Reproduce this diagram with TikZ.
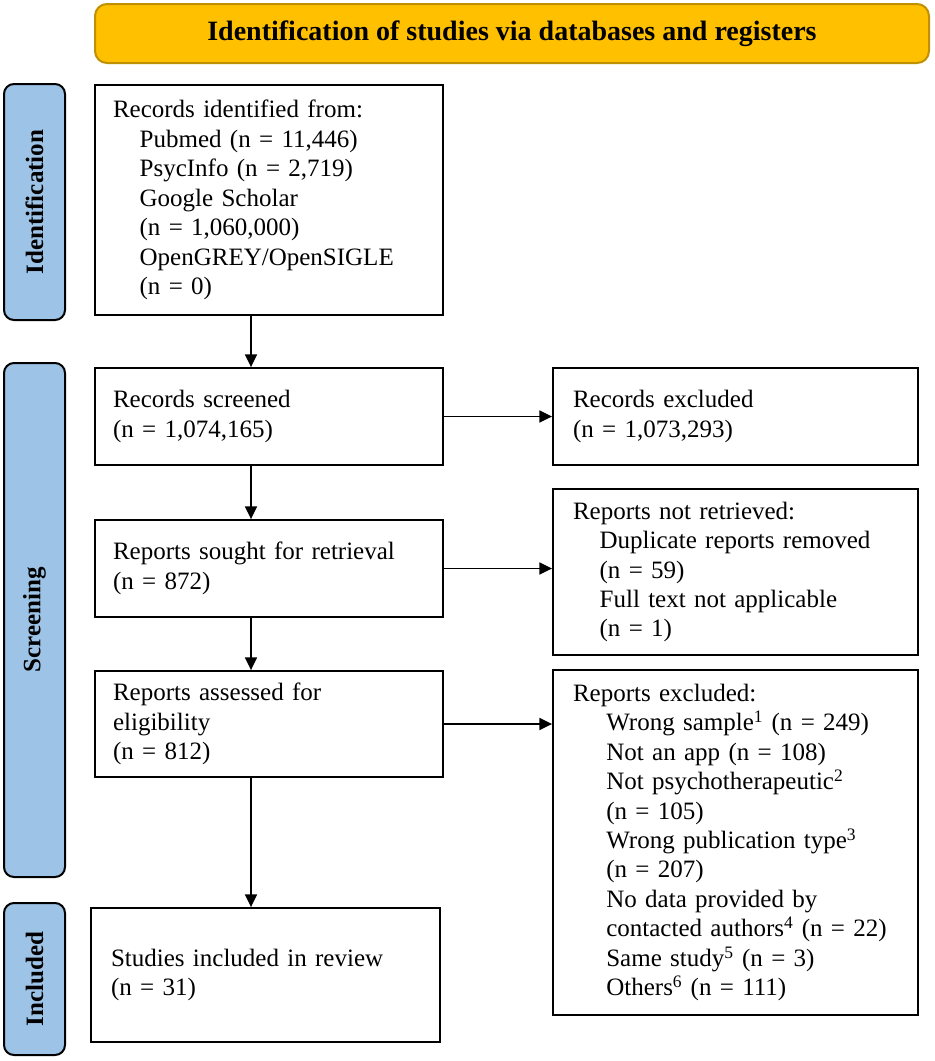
\documentclass[tikz,border=0pt]{standalone}
\usepackage{fontspec}
\setmainfont{Liberation Serif}
\usetikzlibrary{arrows.meta}
\definecolor{bannerfill}{HTML}{FFC000}
\definecolor{bannerdraw}{HTML}{BF9000}
\definecolor{sidefill}{HTML}{9DC3E6}
\begin{document}
\begin{tikzpicture}[x=0.75pt,y=-0.75pt,
  every node/.style={font=\fontsize{18.75}{22.1}\selectfont},
  box/.style={draw=black, line width=1.4pt, rectangle, align=left, inner ysep=0pt},
  lbox/.style={box, inner xsep=13.5pt, text width=234pt},
  rbox/.style={box, inner xsep=15pt, text width=243.75pt, minimum width=273.75pt},
  side/.style={draw=black, line width=1.5pt, fill=sidefill, rounded corners=7.5pt,
    minimum width=45.75pt, inner sep=0pt},
  sidetext/.style={rotate=90, font=\fontsize{18.75}{22}\selectfont\bfseries},
  arr/.style={line width=1.1pt, -{Triangle[length=9.5pt,width=9pt]}}]
\useasboundingbox (0,0) rectangle (935,1061);
\fill[white] (0,0) rectangle (935,1061);

% banner
\node[draw=bannerdraw, line width=1.5pt, fill=bannerfill, rounded corners=9pt,
  minimum width=625.5pt, minimum height=44.25pt, inner sep=0pt,
  font=\fontsize{21}{24}\selectfont\bfseries] (banner) at (512,33.5)
  {Identification of studies via databases and registers};

% side labels
\node[side, minimum height=177pt] (sid) at (34.5,202) {};
\node[sidetext] (sidt) at (sid.center) {Identification};
\node[side, minimum height=385.5pt] (sscr) at (34.5,620) {};
\node[sidetext] (sscrt) at (sscr.center) {Screening};
\node[side, minimum height=114pt] (sinc) at (34.5,979) {};
\node[sidetext] (sinct) at (sinc.center) {Included};

% left column
\node[lbox, minimum width=261pt, minimum height=172.5pt] (b1) at (269,200)
  {Records identified from:\\
   \hspace*{20pt}Pubmed (n = 11,446)\\
   \hspace*{20pt}PsycInfo (n = 2,719)\\
   \hspace*{20pt}Google Scholar\\
   \hspace*{20pt}(n = 1,060,000)\\
   \hspace*{20pt}OpenGREY/OpenSIGLE\\
   \hspace*{20pt}(n = 0)};
\node[lbox, minimum width=261pt, minimum height=72.75pt] (b2) at (269,416.5)
  {Records screened\\(n = 1,074,165)};
\node[lbox, minimum width=261pt, minimum height=72.75pt] (b3) at (269,568.5)
  {Reports sought for retrieval\\(n = 872)};
\node[lbox, minimum width=261pt, minimum height=79.5pt] (b4) at (269,724)
  {Reports assessed for\\eligibility\\(n = 812)};
\node[box, inner xsep=15pt, text width=231.75pt, minimum width=261.75pt, minimum height=100.5pt] (b5) at (265.5,975)
  {Studies included in review\\(n = 31)};

% right column
\node[rbox, minimum height=72.75pt] (r1) at (735.5,416.5)
  {Records excluded\\(n = 1,073,293)};
\node[rbox, minimum height=124.5pt] (r2) at (735.5,572)
  {Reports not retrieved:\\
   \hspace*{20pt}Duplicate reports removed\\
   \hspace*{20pt}(n = 59)\\
   \hspace*{20pt}Full text not applicable\\
   \hspace*{20pt}(n = 1)};
\node[rbox, minimum height=258.75pt] (r3) at (735.5,842.5)
  {Reports excluded:\\
   \hspace*{25pt}Wrong sample\textsuperscript{1} (n = 249)\\
   \hspace*{25pt}Not an app (n = 108)\\
   \hspace*{25pt}Not psychotherapeutic\textsuperscript{2}\\
   \hspace*{25pt}(n = 105)\\
   \hspace*{25pt}Wrong publication type\textsuperscript{3}\\
   \hspace*{25pt}(n = 207)\\
   \hspace*{25pt}No data provided by\\
   \hspace*{25pt}contacted authors\textsuperscript{4} (n = 22)\\
   \hspace*{25pt}Same study\textsuperscript{5} (n = 3)\\
   \hspace*{25pt}Others\textsuperscript{6} (n = 111)};

% connectors
\coordinate (ax) at (251,0);
\draw[arr] (b1.south -| ax) -- (b2.north -| ax);
\draw[arr] (b2.south -| ax) -- (b3.north -| ax);
\draw[arr] (b3.south -| ax) -- (b4.north -| ax);
\draw[arr] (b4.south -| ax) -- (b5.north -| ax);
\draw[arr] (b2.east) -- (r1.west |- b2.east);
\draw[arr] (b3.east) -- (r2.west |- b3.east);
\draw[arr] (b4.east) -- (r3.west |- b4.east);
\end{tikzpicture}
\end{document}
